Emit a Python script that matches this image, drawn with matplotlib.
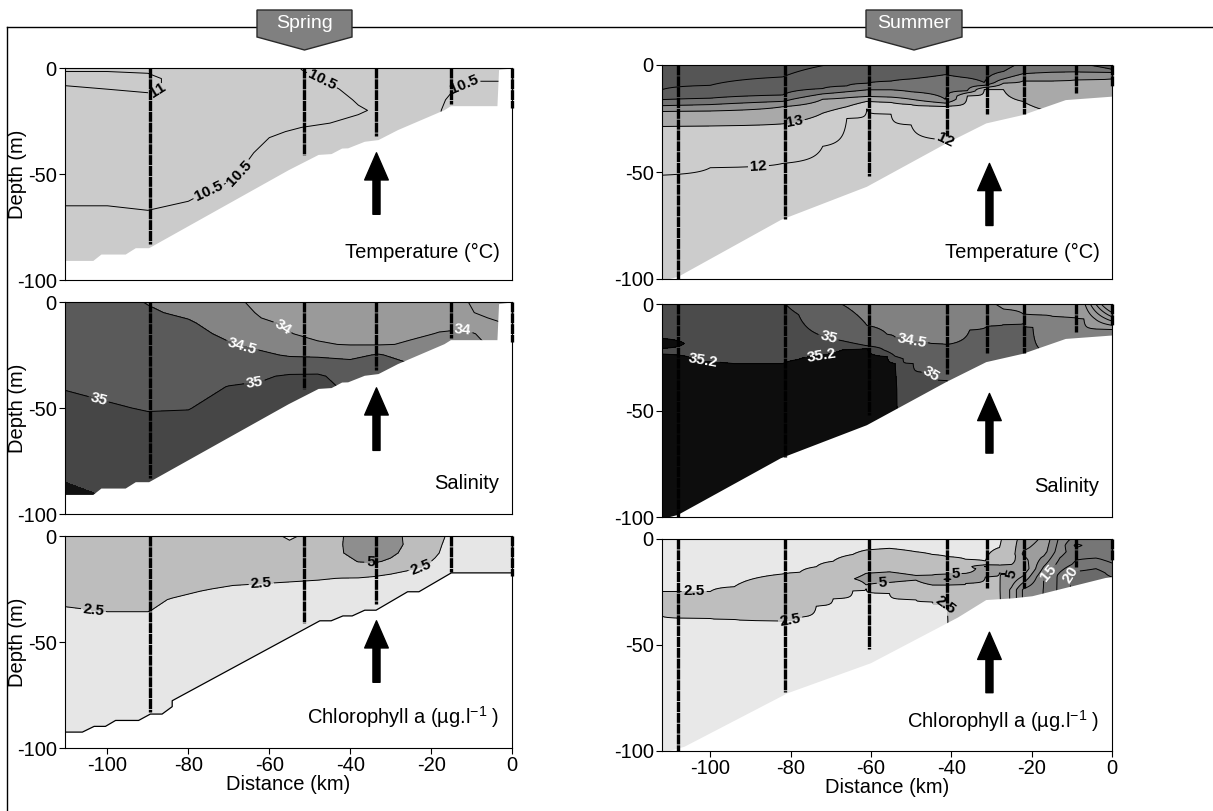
import numpy as np
import matplotlib
matplotlib.use("Agg")
import matplotlib.pyplot as plt
from matplotlib.patches import Polygon, FancyArrowPatch
from matplotlib.lines import Line2D

plt.rcParams['font.family'] = ['Liberation Sans', 'DejaVu Sans']
plt.rcParams['axes.unicode_minus'] = False
plt.rcParams['mathtext.fontset'] = 'custom'
plt.rcParams['mathtext.rm'] = 'Liberation Sans'
plt.rcParams['mathtext.it'] = 'Liberation Sans:italic'
plt.rcParams['mathtext.bf'] = 'Liberation Sans:bold'

# ------------------------------------------------------------------ data
depth_ticks = [0, -50, -100]
dist_ticks = [-100, -80, -60, -40, -20, 0]

# ---- Spring: temperature (°C), profiles at section nodes, depth nodes (m)
temp_sp_x = [-110.5, -100, -90, -80, -70, -60, -52, -45, -38, -30, -20, -15, -10, -5, 0]
temp_sp_z = [0, 5, 10, 15, 20, 25, 30, 40, 50, 60, 70, 80, 90, 100]
temp_sp_profiles = [
    [10.9, 11.2, 10.9, 10.8, 10.75, 10.7, 10.7, 10.65, 10.6, 10.55, 10.45, 10.4, 10.4, 10.4],
    [10.9, 11.2, 11.0, 10.8, 10.75, 10.7, 10.7, 10.65, 10.6, 10.55, 10.45, 10.4, 10.4, 10.4],
    [10.9, 11.1, 11.1, 10.8, 10.75, 10.7, 10.7, 10.65, 10.6, 10.55, 10.48, 10.4, 10.4, 10.4],
    [10.8, 10.8, 10.8, 10.75, 10.7, 10.7, 10.65, 10.6, 10.58, 10.52, 10.45, 10.4, 10.4, 10.4],
    [10.75, 10.75, 10.75, 10.7, 10.7, 10.65, 10.6, 10.58, 10.53, 10.45, 10.4, 10.4, 10.4, 10.4],
    [10.7, 10.7, 10.7, 10.65, 10.6, 10.55, 10.52, 10.45, 10.4, 10.4, 10.4, 10.4, 10.4, 10.4],
    [10.49, 10.55, 10.6, 10.6, 10.58, 10.53, 10.48, 10.45, 10.4, 10.4, 10.4, 10.4, 10.4, 10.4],
    [10.4, 10.46, 10.54, 10.58, 10.56, 10.51, 10.46, 10.4, 10.4, 10.4, 10.4, 10.4, 10.4, 10.4],
    [10.35, 10.38, 10.42, 10.48, 10.52, 10.47, 10.42, 10.4, 10.4, 10.4, 10.4, 10.4, 10.4, 10.4],
    [10.35, 10.38, 10.4, 10.42, 10.45, 10.42, 10.4, 10.4, 10.4, 10.4, 10.4, 10.4, 10.4, 10.4],
    [10.4, 10.42, 10.44, 10.45, 10.46, 10.45, 10.45, 10.45, 10.4, 10.4, 10.4, 10.4, 10.4, 10.4],
    [10.42, 10.45, 10.49, 10.52, 10.54, 10.55, 10.55, 10.45, 10.4, 10.4, 10.4, 10.4, 10.4, 10.4],
    [10.45, 10.49, 10.53, 10.55, 10.55, 10.55, 10.55, 10.45, 10.4, 10.4, 10.4, 10.4, 10.4, 10.4],
    [10.45, 10.49, 10.53, 10.55, 10.55, 10.55, 10.55, 10.45, 10.4, 10.4, 10.4, 10.4, 10.4, 10.4],
    [10.45, 10.49, 10.53, 10.55, 10.55, 10.55, 10.55, 10.45, 10.4, 10.4, 10.4, 10.4, 10.4, 10.4],
]

# ---- Spring: salinity
sal_sp_x = [-110.5, -100, -90, -80, -70, -62, -55, -48, -40, -33, -25, -18, -12, -6, 0]
sal_sp_z = [0, 5, 10, 15, 20, 25, 30, 35, 40, 50, 60, 70, 80, 90, 100]
sal_sp_profiles = [
    [34.7, 34.72, 34.75, 34.78, 34.8, 34.85, 34.9, 34.95, 34.98, 35.1, 35.2, 35.3, 35.4, 35.6, 35.7],
    [34.65, 34.68, 34.7, 34.72, 34.75, 34.78, 34.82, 34.88, 34.93, 35.03, 35.15, 35.25, 35.35, 35.45, 35.6],
    [34.48, 34.55, 34.6, 34.65, 34.7, 34.75, 34.8, 34.85, 34.9, 34.98, 35.1, 35.2, 35.3, 35.4, 35.5],
    [34.3, 34.42, 34.55, 34.62, 34.68, 34.73, 34.78, 34.83, 34.88, 34.99, 35.1, 35.2, 35.3, 35.4, 35.45],
    [34.1, 34.2, 34.3, 34.42, 34.53, 34.65, 34.75, 34.9, 35.01, 35.1, 35.2, 35.3, 35.35, 35.4, 35.45],
    [33.9, 33.95, 34.05, 34.2, 34.4, 34.57, 34.75, 34.95, 35.05, 35.15, 35.2, 35.3, 35.35, 35.4, 35.45],
    [33.88, 33.92, 33.96, 34.01, 34.25, 34.46, 34.75, 35.05, 35.15, 35.2, 35.25, 35.3, 35.35, 35.4, 35.45],
    [33.86, 33.88, 33.9, 33.94, 34.03, 34.42, 34.8, 35.05, 35.15, 35.2, 35.2, 35.2, 35.2, 35.2, 35.2],
    [33.86, 33.87, 33.88, 33.92, 33.98, 34.35, 34.7, 34.85, 34.9, 34.95, 34.95, 34.95, 34.95, 34.95, 34.95],
    [33.86, 33.87, 33.88, 33.92, 33.97, 34.55, 34.7, 34.8, 34.85, 34.85, 34.85, 34.85, 34.85, 34.85, 34.85],
    [33.87, 33.89, 33.92, 33.96, 34.03, 34.25, 34.55, 34.7, 34.75, 34.75, 34.75, 34.75, 34.75, 34.75, 34.75],
    [33.88, 33.91, 33.95, 34.01, 34.2, 34.3, 34.4, 34.45, 34.45, 34.45, 34.45, 34.45, 34.45, 34.45, 34.45],
    [33.85, 33.88, 33.93, 34.05, 34.2, 34.3, 34.4, 34.45, 34.45, 34.45, 34.45, 34.45, 34.45, 34.45, 34.45],
    [33.6, 33.7, 33.9, 33.95, 33.98, 34.02, 34.1, 34.2, 34.2, 34.2, 34.2, 34.2, 34.2, 34.2, 34.2],
    [33.5, 33.6, 33.75, 33.85, 33.95, 34.02, 34.1, 34.2, 34.2, 34.2, 34.2, 34.2, 34.2, 34.2, 34.2],
]

# ---- Spring: chlorophyll a (µg/l)
chl_sp_x = [-110.5, -100, -90, -84, -77, -69, -62, -55, -48, -42, -38, -34, -30, -26, -22, -19, -16, -10, 0]
chl_sp_z = [0, 4, 8, 12, 16, 20, 25, 30, 35, 40, 50, 60, 70, 80, 90, 100]
chl_sp_profiles = [
    [3.4, 3.4, 3.4, 3.3, 3.2, 3.1, 2.9, 2.7, 2.4, 2.1, 1.8, 1.6, 1.6, 1.6, 1.6, 1.6],
    [3.4, 3.4, 3.4, 3.3, 3.2, 3.1, 2.9, 2.7, 2.55, 2.2, 1.8, 1.6, 1.6, 1.6, 1.6, 1.6],
    [3.4, 3.4, 3.4, 3.3, 3.2, 3.1, 2.9, 2.7, 2.55, 2.2, 1.8, 1.6, 1.6, 1.6, 1.6, 1.6],
    [3.4, 3.4, 3.3, 3.2, 3.1, 3.0, 2.8, 2.45, 2.2, 2.0, 1.8, 1.6, 1.6, 1.6, 1.6, 1.6],
    [3.4, 3.4, 3.3, 3.2, 3.0, 2.8, 2.55, 2.3, 2.1, 2.0, 1.8, 1.6, 1.6, 1.6, 1.6, 1.6],
    [3.4, 3.4, 3.3, 3.1, 2.9, 2.7, 2.4, 2.2, 2.0, 1.9, 1.8, 1.6, 1.6, 1.6, 1.6, 1.6],
    [3.3, 3.3, 3.2, 3.1, 2.9, 2.65, 2.35, 2.2, 2.0, 1.9, 1.8, 1.6, 1.6, 1.6, 1.6, 1.6],
    [2.2, 2.8, 3.1, 3.0, 2.85, 2.6, 2.3, 2.1, 2.0, 1.9, 1.8, 1.6, 1.6, 1.6, 1.6, 1.6],
    [3.2, 3.3, 3.3, 3.1, 2.85, 2.55, 2.25, 2.0, 1.9, 1.8, 1.7, 1.6, 1.6, 1.6, 1.6, 1.6],
    [4.9, 4.95, 4.9, 4.0, 3.0, 2.48, 2.2, 2.0, 1.9, 1.8, 1.7, 1.6, 1.6, 1.6, 1.6, 1.6],
    [6.0, 6.2, 5.9, 5.1, 3.3, 2.45, 2.2, 2.0, 1.9, 1.8, 1.7, 1.6, 1.6, 1.6, 1.6, 1.6],
    [6.5, 6.6, 6.2, 5.3, 3.2, 2.3, 2.1, 1.9, 1.8, 1.8, 1.7, 1.6, 1.6, 1.6, 1.6, 1.6],
    [6.0, 6.0, 5.6, 4.6, 2.8, 2.2, 2.0, 1.9, 1.8, 1.8, 1.7, 1.6, 1.6, 1.6, 1.6, 1.6],
    [4.6, 4.7, 4.3, 3.5, 2.55, 2.1, 2.0, 1.9, 1.8, 1.8, 1.7, 1.6, 1.6, 1.6, 1.6, 1.6],
    [3.6, 3.5, 3.2, 2.8, 2.3, 2.0, 1.9, 1.9, 1.8, 1.8, 1.7, 1.6, 1.6, 1.6, 1.6, 1.6],
    [3.0, 2.9, 2.7, 2.35, 2.1, 2.0, 1.9, 1.9, 1.8, 1.8, 1.7, 1.6, 1.6, 1.6, 1.6, 1.6],
    [2.4, 2.2, 2.1, 2.0, 2.0, 2.0, 1.9, 1.9, 1.8, 1.8, 1.7, 1.6, 1.6, 1.6, 1.6, 1.6],
    [2.0, 2.0, 2.0, 2.0, 2.0, 2.0, 1.9, 1.9, 1.8, 1.8, 1.7, 1.6, 1.6, 1.6, 1.6, 1.6],
    [2.0, 2.0, 2.0, 2.0, 2.0, 2.0, 1.9, 1.9, 1.8, 1.8, 1.7, 1.6, 1.6, 1.6, 1.6, 1.6],
]

# ---- Summer: temperature, depth (m) of each isotherm at section nodes
temp_su_x = [-112, -100, -82, -72, -66, -61, -55, -50, -41.5, -36, -31.8, -27, -22.2, -15, -9.2, 0]
temp_su_levels = [18, 17, 16, 15, 14, 13, 12, 11]
temp_su_iso17 = [11.5, 9.5, 5.6, 0.3, -3, -3, -3, -3, -3, -3, -3, -3, -3, -3, -3, -3]
temp_su_iso16 = [16.2, 15.5, 14, 11, 9.8, 8.5, 7.5, 6.5, 4.5, 6, 8.2, 3, -2, -2, -1, 2]
temp_su_iso15 = [19, 18.5, 17, 13.5, 12.5, 11.6, 11.6, 12.5, 16, 12, 9.5, 6.5, 4.1, 3.4, 3.2, 3.5]
temp_su_iso14 = [21.7, 21.5, 19.5, 16, 15.3, 14.7, 15, 16, 17.8, 13, 10.5, 8.5, 7.5, 7.5, 7, 6.5]
temp_su_iso13 = [28.7, 28.5, 27.5, 22.5, 19.5, 17, 17.5, 18.5, 19.3, 14.5, 11.5, 11.5, 17, 22, 22, 22]
temp_su_iso12 = [51.5, 48, 46, 38, 25, 20.5, 23, 28, 35, 40, 40, 40, 40, 40, 40, 40]

# ---- Summer: salinity, profile knots (depth m, value) at section nodes
sal_su_x = [-112, -104, -94, -82, -78, -72, -67, -61, -56, -54, -52, -49.5, -45, -41,
            -35.4, -31, -27, -22, -19.7, -14.8, -9, -7, 0]
sal_su_depths = [
    [0, 15, 18.5, 22, 25, 40, 130], [0, 20, 33, 130], [0, 20, 36, 130], [0, 20, 36, 130],
    [0, 5, 20, 32, 130], [0, 15.1, 20, 28, 130], [0, 17.3, 21.5, 30, 130],
    [0, 10, 19.6, 20.8, 30, 130], [0, 14.2, 22.2, 24.7, 35, 130], [0, 15.5, 24.5, 28, 40, 130],
    [0, 16.6, 25.7, 130], [0, 17.8, 27.9, 130], [0, 18.5, 32.2, 130], [0, 19, 36, 130],
    [0, 12.2, 130], [0, 10.3, 130], [0, 2.4, 9.6, 130], [0, 4.8, 9.2, 130], [0, 5, 11, 130],
    [0, 5.8, 23.3, 130], [0, 6.5, 130], [0, 7, 130], [0, 4, 6, 8, 10, 12, 130],
]
sal_su_values = [
    [35.1, 35.15, 35.3, 35.15, 35.25, 35.3, 35.35], [35.1, 35.16, 35.24, 35.35],
    [35.08, 35.16, 35.24, 35.35], [35.01, 35.16, 35.24, 35.35],
    [34.95, 35.0, 35.15, 35.25, 35.35], [34.6, 35.0, 35.12, 35.28, 35.35],
    [34.49, 35.0, 35.2, 35.3, 35.35], [34.3, 34.5, 35.0, 35.2, 35.3, 35.35],
    [34.2, 34.5, 35.0, 35.2, 35.3, 35.35], [34.2, 34.5, 35.0, 35.2, 35.25, 35.3],
    [34.2, 34.5, 35.0, 35.15], [34.2, 34.5, 35.0, 35.15], [34.2, 34.5, 35.0, 35.15],
    [34.2, 34.5, 35.0, 35.1], [34.25, 34.5, 34.95], [34.1, 34.5, 34.95],
    [33.9, 34.0, 34.5, 34.9], [33.9, 34.0, 34.5, 34.9], [33.9, 34.0, 34.5, 34.9],
    [33.9, 34.0, 34.5, 34.8], [33.85, 34.0, 34.6], [33.8, 34.0, 34.6],
    [32.5, 33.0, 33.25, 33.5, 33.75, 34.0, 34.6],
]

# ---- Summer: chlorophyll a, profile knots
chl_su_x = [-112, -100, -94, -82, -77.7, -73.6, -69.4, -64.5, -61.2, -55.4, -48.8, -44.7, -41,
            -36.4, -31.5, -28, -25, -22, -17, -13, -9, -4, 0]
chl_su_depths = [
    [0, 24.8, 30, 36.4, 130], [0, 24.8, 31, 37.5, 130], [0, 22.5, 30, 37.9, 130],
    [0, 16.5, 28, 38.6, 130], [0, 15.7, 26, 36.9, 130], [0, 13.1, 22, 31.6, 130],
    [0, 10.5, 19, 28.2, 130], [0, 7.3, 18.8, 24.5, 130], [0, 5.2, 16.2, 19, 21.7, 23.3, 130],
    [0, 4.4, 15.5, 18, 20.5, 25.6, 130], [0, 6, 17.2, 18.3, 19.4, 28.6, 130],
    [0, 7.3, 17, 19.5, 21.7, 29.6, 130], [0, 8.3, 16.5, 19, 21.7, 31.2, 130],
    [0, 9.6, 16.2, 18.5, 20.9, 130], [0, 10.4, 12.2, 13, 14, 16.5, 17.8, 130],
    [0, 4, 12.3, 14, 16, 130], [0, 8, 13, 16.5, 24, 130], [0, 4, 7, 10, 14, 18, 24, 130],
    [0, 6, 12, 18, 130], [0, 6, 12, 17, 130], [0, 3, 6, 12, 17, 130], [0, 8, 16, 130],
    [0, 10, 18, 130],
]
chl_su_values = [
    [1.5, 2.5, 3.5, 2.5, 1.0], [1.5, 2.5, 3.5, 2.5, 1.0], [1.5, 2.5, 3.6, 2.5, 1.0],
    [1.5, 2.5, 3.8, 2.5, 1.0], [1.5, 2.5, 3.9, 2.5, 1.0], [1.5, 2.5, 4.0, 2.5, 1.0],
    [1.5, 2.5, 4.3, 2.5, 1.0], [1.5, 2.5, 4.95, 2.5, 1.0], [1.5, 2.5, 5.0, 5.5, 5.0, 2.5, 1.0],
    [1.5, 2.5, 5.0, 5.6, 5.0, 2.5, 1.0], [1.5, 2.5, 5.0, 5.3, 5.0, 2.5, 1.0],
    [1.5, 2.5, 5.0, 6.0, 5.0, 2.5, 1.0], [1.5, 2.5, 5.0, 8.0, 5.0, 2.5, 1.5],
    [1.5, 2.5, 5.0, 5.6, 5.0, 3.0], [1.5, 2.5, 5.0, 7.7, 5.8, 5.5, 5.0, 3.0],
    [2.2, 2.5, 5.0, 5.4, 5.0, 3.0], [4.0, 3.8, 5.3, 5.0, 8.0, 8.0],
    [6.0, 7.0, 8.0, 6.5, 5.5, 8.0, 13.0, 13.0], [8.0, 9.0, 12.0, 15.0, 16.0],
    [13.0, 14.0, 16.0, 18.0, 19.0], [16.0, 18.0, 16.5, 18.0, 21.0, 21.0],
    [16.0, 17.0, 21.0, 21.0], [15.0, 17.0, 20.0, 20.0],
]

# ---- sea floor profiles (km, m)
bottom_sp_x = [-110.5, -103.5, -101.5, -95.5, -93.0, -89.7, -55.2, -47.8, -44.6, -42.0, -40.5,
               -36.4, -33.0, -28.2, -16.7, -15.1, -3.6, -3.2, 0.0]
bottom_sp_z = [-91, -91, -88, -88, -85, -85, -48.2, -41, -40.6, -38, -37.9, -34.8, -34, -29.3,
               -19.9, -18, -18, -1, -0.2]
bottom_sp_chl_x = [-110.5, -106.2, -103.3, -100.5, -98, -92.3, -89.4, -86.5, -84, -84, -47.5,
                   -44.7, -41.8, -39.5, -36.4, -33.6, -25.8, -23, -15, 0]
bottom_sp_chl_z = [-92.5, -92.5, -89.8, -89.8, -87, -87, -84, -84, -80.5, -77.7, -40, -40,
                   -37.7, -37.7, -35, -35, -26.3, -26.3, -17.4, -17.4]
bottom_su_x = [-112, -108, -82.4, -61, -41.2, -31.3, -22.2, -11.5, 0]
bottom_su_z = [-101, -99, -72.4, -56.9, -36.6, -27.3, -23.4, -16.4, -14.8]
bottom_su_chl_x = [-112, -106.4, -80.8, -60, -38.3, -31.3, -24.7, -19.8, -1.6, 0]
bottom_su_chl_z = [-101, -98, -72.8, -58.6, -37, -28.8, -28, -27, -18.4, -18]

# ---- CTD stations (km) and cast depth (m)
stations_sp_x = [-89.5, -51.5, -33.7, -15.0, 0.0]
stations_sp_depth = [83, 41, 32, 17, 19]
stations_su_x = [-108, -81.5, -60.5, -41, -31, -22, -9, 0]
stations_su_depth = [100, 72, 52, 33, 23, 23, 13, 10]

# ---- arrows (km, tail depth, head depth)
arrow_sp_x = -33.5
arrow_sp = [(-69, -40), (-70, -40.5), (-69, -40)]
arrow_su_x = -30.5
arrow_su = [(-75, -46), (-70, -42), (-72.5, -44)]

# ------------------------------------------------------------------ figure
W, H = 1213, 811
fig = plt.figure(figsize=(W / 100, H / 100), dpi=100)


def px_axes(x0, y0, x1, y1):
    return fig.add_axes([x0 / W, 1 - y1 / H, (x1 - x0) / W, (y1 - y0) / H])


z_fine = np.linspace(0, 100, 401)


def knots_grid(depths, values):
    return np.array([np.interp(z_fine, d, v) for d, v in zip(depths, values)]).T


def style(ax, xlim, bottom_row, ylabel):
    ax.set_xlim(*xlim)
    ax.set_ylim(-100, 0)
    ax.set_yticks(depth_ticks)
    ax.set_yticklabels([str(t) for t in depth_ticks])
    ax.tick_params(axis='both', direction='out', length=4, width=0.8, labelsize=14.5, pad=2)
    if bottom_row:
        ax.set_xticks(dist_ticks)
        ax.set_xticklabels([str(t) for t in dist_ticks])
        ax.set_xlabel('Distance (km)', fontsize=14.5, labelpad=0)
    else:
        ax.set_xticks([])
    if ylabel:
        ax.set_ylabel('Depth (m)', fontsize=14.5)
        ax.yaxis.set_label_coords(-0.085, 0.5)
    for s in ax.spines.values():
        s.set_linewidth(0.8)
        s.set_zorder(8)


def panel(ax, x, y, F, fill_levels, fill_colors, groups, bx, bz, outline=False):
    """groups: list of (levels, label positions or None, label colour)"""
    ax.contourf(x, y, F, levels=fill_levels, colors=fill_colors, zorder=1)
    for levels, pos, color in groups:
        cs = ax.contour(x, y, F, levels=levels, colors='k', linewidths=0.7, zorder=2)
        if pos:
            txt = ax.clabel(cs, manual=pos, inline=True, inline_spacing=2,
                            fmt=lambda v: f'{v:g}', fontsize=11, colors=color)
            for t in txt:
                t.set_fontweight('bold')
                t.set_zorder(4)
    verts = list(zip(bx, bz)) + [(bx[-1] + 5, -120), (bx[0] - 5, -120)]
    ax.fill([v[0] for v in verts], [v[1] for v in verts], color='white', lw=0, zorder=2.5)
    if outline:
        ax.plot(bx, bz, color='k', lw=0.9, zorder=2.6)


def stations(ax, xs, ds):
    for sx, sd in zip(xs, ds):
        ax.plot([sx, sx], [0, -sd], color='k', lw=2.4, linestyle=(0, (3.0, 0.25)),
                solid_capstyle='butt', zorder=5, clip_on=False)


def arrow(ax, x, tail, head):
    ax.add_patch(FancyArrowPatch((x, tail), (x, head),
                                 arrowstyle='simple,head_length=1.15,head_width=1.0,tail_width=0.3',
                                 mutation_scale=17, color='k', shrinkA=0, shrinkB=0, zorder=6))


def tag(ax, text, ypos):
    ax.text(0.972, ypos, text, transform=ax.transAxes, ha='right', va='bottom',
            fontsize=14.5, zorder=7)


axA = px_axes(65, 68, 512, 280)
axB = px_axes(65, 302, 512, 514)
axC = px_axes(65, 536, 512, 748)
axD = px_axes(662, 65, 1112, 279)
axE = px_axes(662, 304, 1112, 517)
axF = px_axes(662, 539, 1112, 751)

sp_lim = (-110.5, 0)
su_lim = (-112, 0)
for ax, lim, bot, yl in [(axA, sp_lim, False, True), (axB, sp_lim, False, True),
                         (axC, sp_lim, True, True), (axD, su_lim, False, False),
                         (axE, su_lim, False, False), (axF, su_lim, True, False)]:
    style(ax, lim, bot, yl)

# --- Spring temperature
panel(axA, temp_sp_x, -np.array(temp_sp_z), np.array(temp_sp_profiles).T,
      [9, 10.5, 11, 12], ['#cbcbcb'] * 3,
      [([10.5, 11], [(-87.5, -11), (-47.7, -9), (-67.4, -49.7), (-74, -62.3), (-11.6, -8.5)], 'k')],
      bottom_sp_x, bottom_sp_z)

# --- Spring salinity
panel(axB, sal_sp_x, -np.array(sal_sp_z), np.array(sal_sp_profiles).T,
      [33, 34, 34.5, 35, 35.5, 36], ['#9a9a9a', '#848484', '#5a5a5a', '#464646', '#111111'],
      [([33.8], None, 'k'),
       ([34, 34.5, 35], [(-57.2, -13.2), (-12.2, -13.2), (-66.8, -21.8), (-102.3, -47),
                         (-63.7, -37.6)], 'white')],
      bottom_sp_x, bottom_sp_z)

# --- Spring chlorophyll
panel(axC, chl_sp_x, -np.array(chl_sp_z), np.array(chl_sp_profiles).T,
      [0, 2.5, 5, 30], ['#e6e6e6', '#bdbdbd', '#8e8e8e'],
      [([2.5, 5], [(-103.5, -35.5), (-62, -22.3), (-22.6, -14.5), (-35, -13)], 'k')],
      bottom_sp_chl_x, bottom_sp_chl_z, outline=True)

# --- Summer temperature
iso = [temp_su_iso17, temp_su_iso16, temp_su_iso15, temp_su_iso14, temp_su_iso13, temp_su_iso12]
d_list = [[-10] + [lvl[i] for lvl in iso] + [130] for i in range(len(temp_su_x))]
v_list = [temp_su_levels for _ in temp_su_x]
panel(axD, temp_su_x, -z_fine, knots_grid(d_list, v_list),
      [10, 12, 13, 14, 15, 16, 17, 19],
      ['#cccccc', '#cccccc', '#a9a9a9', '#8e8e8e', '#737373', '#5d5d5d', '#555555'],
      [([14, 15, 16, 17], None, 'k'),
       ([12, 13], [(-79, -27), (-88, -47), (-41.5, -34)], 'k')],
      bottom_su_x, bottom_su_z)

# --- Summer salinity
panel(axE, sal_su_x, -z_fine, knots_grid(sal_su_depths, sal_su_values),
      [30, 34, 34.5, 35, 35.2, 36], ['#999999', '#818181', '#5f5f5f', '#4b4b4b', '#0d0d0d'],
      [([33, 33.25, 33.5, 33.75, 34], None, 'k'),
       ([34.5, 35, 35.2], [(-101.7, -24.7), (-72.3, -24.7), (-70.6, -16.1), (-44.6, -32.6),
                           (-50, -17.8)], 'white')],
      bottom_su_x, bottom_su_z)

# --- Summer chlorophyll
panel(axF, chl_su_x, -z_fine, knots_grid(chl_su_depths, chl_su_values),
      [0, 2.5, 5, 10, 15, 20, 40],
      ['#e8e8e8', '#bebebe', '#9d9d9d', '#878787', '#767676', '#6a6a6a'],
      [([7.5, 10, 12.5, 17.5], None, 'k'),
       ([2.5, 5], [(-104, -25.6), (-80, -38.6), (-41.5, -31), (-57, -21), (-39, -14.6),
                   (-25, -17)], 'k'),
       ([15, 20], [(-14.7, -17.8), (-10.6, -16.2)], 'white')],
      bottom_su_chl_x, bottom_su_chl_z)

# stations, arrows, tags
for ax in (axA, axB, axC):
    stations(ax, stations_sp_x, stations_sp_depth)
for ax in (axD, axE, axF):
    stations(ax, stations_su_x, stations_su_depth)
for ax, (t, h) in zip((axA, axB, axC), arrow_sp):
    arrow(ax, arrow_sp_x, t, h)
for ax, (t, h) in zip((axD, axE, axF), arrow_su):
    arrow(ax, arrow_su_x, t, h)

tag(axA, 'Temperature (°C)', 0.085)
tag(axB, 'Salinity', 0.10)
tag(axC, 'Chlorophyll a (µg.l$^{-1}$ )', 0.085)
tag(axD, 'Temperature (°C)', 0.08)
tag(axE, 'Salinity', 0.10)
tag(axF, 'Chlorophyll a (µg.l$^{-1}$ )', 0.08)

# outer frame and season boxes
fig.add_artist(Line2D([7 / W, 1], [1 - 27 / H, 1 - 27 / H], transform=fig.transFigure,
                      color='k', lw=1, zorder=9))
fig.add_artist(Line2D([7 / W, 7 / W], [1 - 27 / H, 0], transform=fig.transFigure,
                      color='k', lw=1, zorder=9))


def season_box(x0, x1, text):
    tip = (x0 + x1) / 2
    verts = [(x0, 10), (x1, 10), (x1, 37), (tip, 50), (x0, 37)]
    fig.add_artist(Polygon([(x / W, 1 - y / H) for x, y in verts], closed=True,
                           transform=fig.transFigure, facecolor='#808080',
                           edgecolor='#2a2a2a', lw=1, zorder=10))
    fig.text(tip / W, 1 - 23.5 / H, text, ha='center', va='center', color='white',
             fontsize=14, zorder=11)


season_box(257, 352, 'Spring')
season_box(866, 962, 'Summer')

fig.savefig('out.png', dpi=100)
